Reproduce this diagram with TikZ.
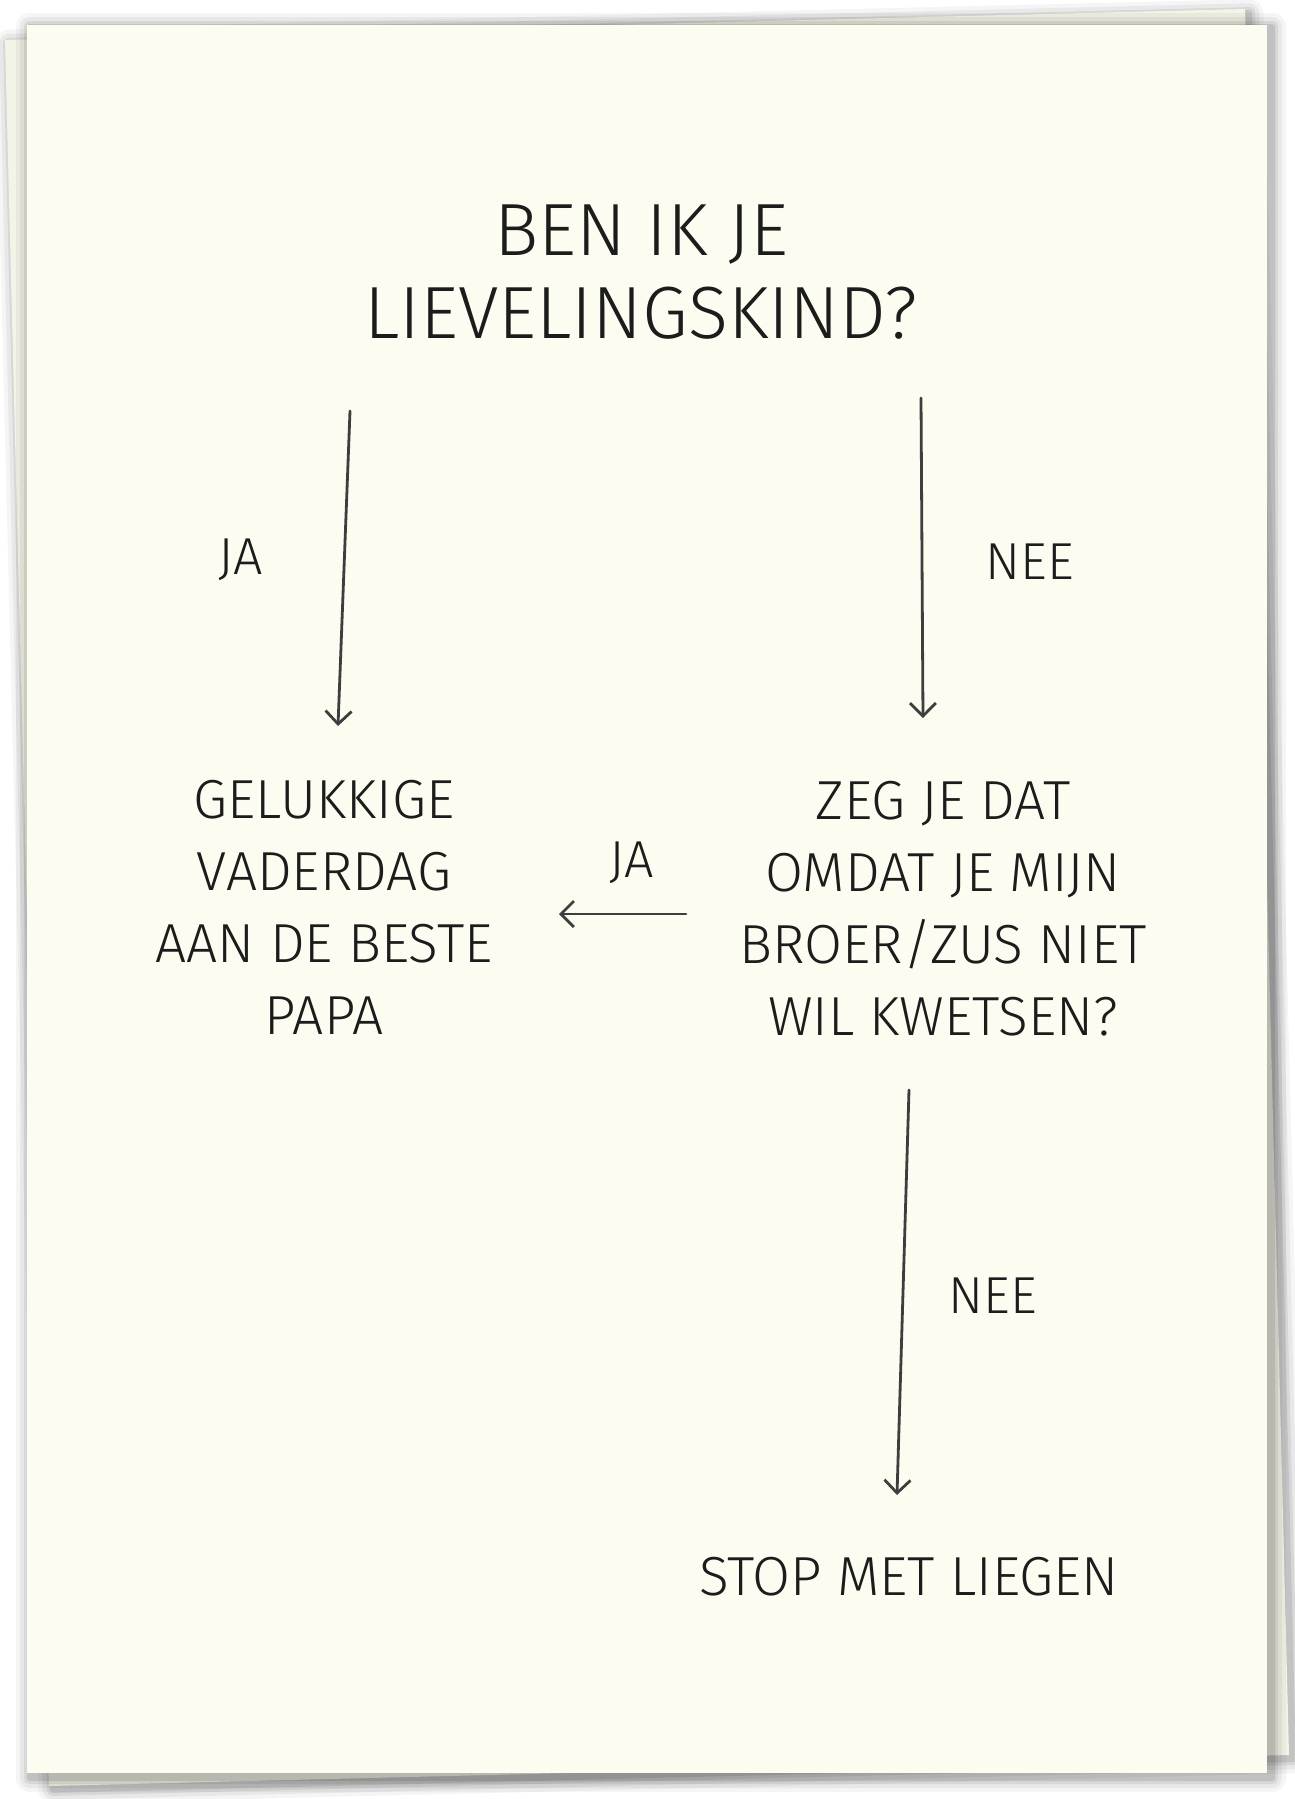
\documentclass[tikz,border=0pt]{standalone}
\usepackage{fontspec}
\setmainfont{Fira Sans Light}
\usepackage{tikz}
\usetikzlibrary{arrows.meta,positioning}

\definecolor{cardcream}{HTML}{FCFCF1}
\definecolor{backcream}{HTML}{F3F3E7}
\definecolor{inkgray}{HTML}{1C1C1C}

\tikzset{
    handtext/.style={text=inkgray, align=center, inner sep=0pt,
        font=\fontsize{55}{72}\selectfont},
    titletext/.style={handtext, font=\fontsize{74}{83}\selectfont},
    answer/.style={handtext, font=\fontsize{52}{52}\selectfont},
    flow/.style={draw=inkgray!85, line width=2.8pt, line cap=round,
        -{Straight Barb[length=13pt,width=26pt,line width=2.8pt]}},
}

\begin{document}
\begin{tikzpicture}[x=1pt,y=-1pt]
    \useasboundingbox (0,0) rectangle (1294,1799);
    \fill[white] (0,0) rectangle (1294,1799);

    % the cards
    \foreach \s/\o in {14/0.04,10/0.05,6/0.07,3/0.09}
        \fill[black,opacity=\o,rounded corners=\s pt]
            (5-\s+4,40-\s+4) -- (1245+\s+4,9-\s+4) -- (1289+\s+4,1755+\s+4) -- (49-\s+4,1786+\s+4) -- cycle;
    \fill[backcream] (5,40) -- (1245,9) -- (1289,1755) -- (49,1786) -- cycle;
    \foreach \s/\o in {14/0.04,10/0.05,6/0.07,3/0.10}
        \fill[black,opacity=\o,rounded corners=\s pt]
            (27-\s+3,25-\s+2) rectangle (1267+\s+5,1773+\s+5);
    \fill[cardcream] (27,25) rectangle (1267,1773);

    % flow chart
    \node[titletext] (q1) at (641,272) {BEN IK JE\\LIEVELINGSKIND?};
    \node[handtext] (papa) at (324,907) {GELUKKIGE\\VADERDAG\\AAN DE BESTE\\PAPA};
    \node[handtext] (q2) at (943,909) {ZEG JE DAT\\OMDAT JE MIJN\\BROER/ZUS NIET\\WIL KWETSEN?};
    \node[handtext] (stop) at (909,1577) {STOP MET LIEGEN};

    \node[answer] (ja1) at (241,560) {JA};
    \node[answer] (nee1) at (1030,562) {NEE};
    \node[answer] (ja2) at (632,863) {JA};
    \node[answer] (nee2) at (993,1296) {NEE};

    \coordinate (a1) at (350,411);
    \coordinate (b1) at (338,726);
    \coordinate (a2) at (921,398);
    \coordinate (b2) at (923,718);
    \coordinate (a3) at (686,914);
    \coordinate (b3) at (559,914);
    \coordinate (a4) at (909,1090);
    \coordinate (b4) at (897,1495);

    \draw[flow] (a1) -- (b1);
    \draw[flow] (a2) -- (b2);
    \draw[flow] (a3) -- (b3);
    \draw[flow] (a4) -- (b4);
\end{tikzpicture}
\end{document}
